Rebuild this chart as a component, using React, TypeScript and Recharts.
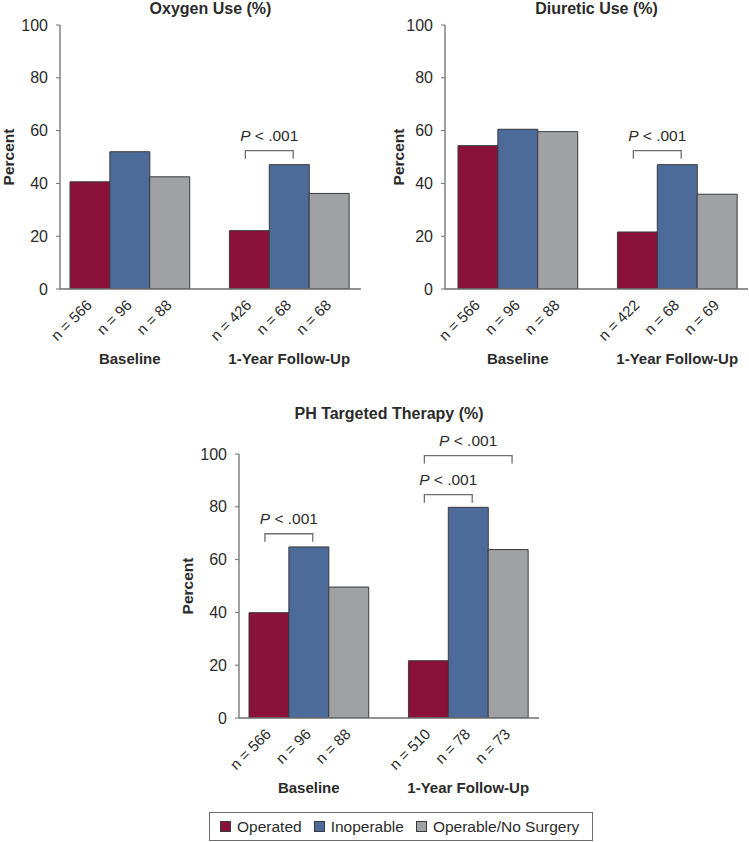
import React from "react";
import { BarChart, Bar, XAxis, YAxis, Cell, ReferenceLine } from "recharts";

const groups = ["Baseline", "1-Year Follow-Up"];
const seriesNames = ["Operated", "Inoperable", "Operable/No Surgery"];
const seriesColors = ["#8a1139", "#4d6b99", "#a0a1a5"];
const yTicks = [0, 20, 40, 60, 80, 100];

// values per series: [baseline, follow-up]
const oxygenOperated = [40.6, 22.1];
const oxygenInoperable = [52.0, 47.1];
const oxygenNoSurgery = [42.5, 36.2];
const oxygenN = [[566, 426], [96, 68], [88, 68]];

const diureticOperated = [54.3, 21.6];
const diureticInoperable = [60.5, 47.1];
const diureticNoSurgery = [59.6, 35.9];
const diureticN = [[566, 422], [96, 68], [88, 69]];

const phOperated = [39.9, 21.7];
const phInoperable = [64.8, 79.8];
const phNoSurgery = [49.6, 63.8];
const phN = [[566, 510], [96, 78], [88, 73]];

// significance brackets: group, from series, to series, height (%)
const oxygenBrackets = [{ g: 1, from: 0, to: 1, level: 52.4 }];
const diureticBrackets = [{ g: 1, from: 0, to: 1, level: 52.4 }];
const phBrackets = [
  { g: 0, from: 0, to: 1, level: 69.8 },
  { g: 1, from: 0, to: 1, level: 84.6 },
  { g: 1, from: 0, to: 2, level: 99.4 },
];

const FONT = "'Liberation Sans', Arial, Helvetica, sans-serif";
const TEXT = "#2b2b2b";
const AXIS = "#6e6e6e";

type Row = { key: string; value: number | null; n: number | null; color: string; group?: string };

function buildRows(vals: number[][], ns: number[][]): Row[] {
  const rows: Row[] = [];
  groups.forEach((grp, g) => {
    if (g > 0) rows.push({ key: "gap", value: null, n: null, color: "none" });
    seriesNames.forEach((_, s) => {
      rows.push({
        key: `g${g}s${s}`,
        value: vals[s][g],
        n: ns[s][g],
        color: seriesColors[s],
        group: s === 1 ? grp : undefined,
      });
    });
  });
  return rows;
}

function NTick(props: any) {
  const { x, y, payload, rows } = props;
  const row = rows.find((r: Row) => r.key === payload.value);
  if (!row || row.n == null) return null;
  const tx = x + 3;
  const ty = y + 17;
  return (
    <g>
      <text x={tx} y={ty} textAnchor="end" transform={`rotate(-45, ${tx}, ${ty})`}
        fontSize={15} fill={TEXT} fontFamily={FONT}>
        {`n = ${row.n}`}
      </text>
      {row.group && (
        <text x={x} y={y + 75} textAnchor="middle" fontSize={15} fontWeight="bold"
          fill={TEXT} fontFamily={FONT}>
          {row.group}
        </text>
      )}
    </g>
  );
}

function Bracket(p: any) {
  const { x1, y1, x2 } = p;
  if (x1 == null || y1 == null || x2 == null) return null;
  const l = Math.min(x1, x2) - 4;
  const r = Math.max(x1, x2) + 4;
  return (
    <g>
      <path d={`M${l},${y1 + 8}V${y1}H${r}V${y1 + 8}`} fill="none" stroke={AXIS} strokeWidth={1.3} />
      <text x={(l + r) / 2} y={y1 - 10} textAnchor="middle" fontSize={15.5} fill={TEXT} fontFamily={FONT}>
        <tspan fontStyle="italic">P</tspan>
        {" < .001"}
      </text>
    </g>
  );
}

type PanelProps = {
  title: string;
  vals: number[][];
  ns: number[][];
  brackets: { g: number; from: number; to: number; level: number }[];
  left: number;
  top: number;
  width: number;
  height: number;
  margin: { top: number; right: number; bottom: number; left: number };
  yWidth: number;
  padding: { left: number; right: number };
  percentX: number;
  titleY: number;
};

function Panel(pp: PanelProps) {
  const rows = buildRows(pp.vals, pp.ns);
  const plotLeft = pp.yWidth + pp.margin.left;
  const plotRight = pp.width - pp.margin.right;
  const plotTop = pp.margin.top;
  const plotBottom = pp.height - pp.margin.bottom - 60;
  return (
    <div style={{ position: "absolute", left: pp.left, top: pp.top, width: pp.width, height: pp.height }}>
      <BarChart width={pp.width} height={pp.height} data={rows} margin={pp.margin}
        barCategoryGap={0} style={{ overflow: "visible" }}>
        <XAxis dataKey="key" type="category" height={60} padding={pp.padding}
          axisLine={{ stroke: AXIS, strokeWidth: 1.3 }} tickLine={false} tickSize={0} tickMargin={0}
          interval={0} tick={(p: any) => <NTick {...p} rows={rows} />} />
        <YAxis domain={[0, 100]} ticks={yTicks} width={pp.yWidth} tickSize={4} tickMargin={8}
          axisLine={{ stroke: AXIS, strokeWidth: 1.3 }} tickLine={{ stroke: AXIS }}
          tick={{ fontSize: 16, fill: TEXT, fontFamily: FONT }} allowDataOverflow />
        <Bar dataKey="value" isAnimationActive={false} stroke="#3a3a3a" strokeWidth={1}>
          {rows.map((r, i) => (
            <Cell key={i} fill={r.color} />
          ))}
        </Bar>
        {pp.brackets.map((b, i) => (
          <ReferenceLine key={i} ifOverflow="visible"
            segment={[{ x: `g${b.g}s${b.from}`, y: b.level }, { x: `g${b.g}s${b.to}`, y: b.level }]}
            shape={(p: any) => <Bracket {...p} />} />
        ))}
      </BarChart>
      <div style={{
        position: "absolute", left: (plotLeft + plotRight) / 2, top: pp.titleY - 9, transform: "translateX(-50%)",
        fontFamily: FONT, fontWeight: "bold", fontSize: 16, lineHeight: "18px", color: TEXT, whiteSpace: "nowrap",
      }}>
        {pp.title}
      </div>
      <div style={{
        position: "absolute", left: pp.percentX, top: (plotTop + plotBottom) / 2,
        transform: "translate(-50%, -50%) rotate(-90deg)", fontFamily: FONT, fontWeight: "bold",
        fontSize: 15.5, lineHeight: "18px", color: TEXT, whiteSpace: "nowrap",
      }}>
        Percent
      </div>
    </div>
  );
}

function Legend() {
  return (
    <div style={{
      position: "absolute", left: 209, top: 812, width: 384, height: 29, boxSizing: "border-box",
      border: `1px solid ${AXIS}`, display: "flex", alignItems: "center", paddingLeft: 10,
      fontFamily: FONT, fontSize: 15.5, color: TEXT,
    }}>
      {seriesNames.map((s, i) => (
        <div key={s} style={{ display: "flex", alignItems: "center", marginRight: 12 }}>
          <span style={{
            display: "inline-block", width: 11, height: 11, background: seriesColors[i],
            border: "1px solid #3a3a3a", marginRight: 6, boxSizing: "border-box",
          }} />
          <span>{s}</span>
        </div>
      ))}
    </div>
  );
}

export default function App() {
  return (
    <div style={{ position: "absolute", left: 0, top: 0, width: 749, height: 842, background: "#fff", overflow: "hidden" }}>
      <Panel title="Oxygen Use (%)" vals={[oxygenOperated, oxygenInoperable, oxygenNoSurgery]} ns={oxygenN}
        brackets={oxygenBrackets} left={0} top={0} width={375} height={380}
        margin={{ top: 25, right: 14, bottom: 31, left: 0 }} yWidth={60} padding={{ left: 10, right: 12 }}
        percentX={8.5} titleY={9} />
      <Panel title="Diuretic Use (%)" vals={[diureticOperated, diureticInoperable, diureticNoSurgery]} ns={diureticN}
        brackets={diureticBrackets} left={375} top={0} width={374} height={380}
        margin={{ top: 25, right: 1, bottom: 31, left: 0 }} yWidth={70} padding={{ left: 13, right: 11 }}
        percentX={24} titleY={9} />
      <Panel title="PH Targeted Therapy (%)" vals={[phOperated, phInoperable, phNoSurgery]} ns={phN}
        brackets={phBrackets} left={180} top={400} width={360} height={410}
        margin={{ top: 54, right: 1, bottom: 32, left: 0 }} yWidth={59} padding={{ left: 10, right: 11 }}
        percentX={7.5} titleY={13.5} />
      <Legend />
    </div>
  );
}
